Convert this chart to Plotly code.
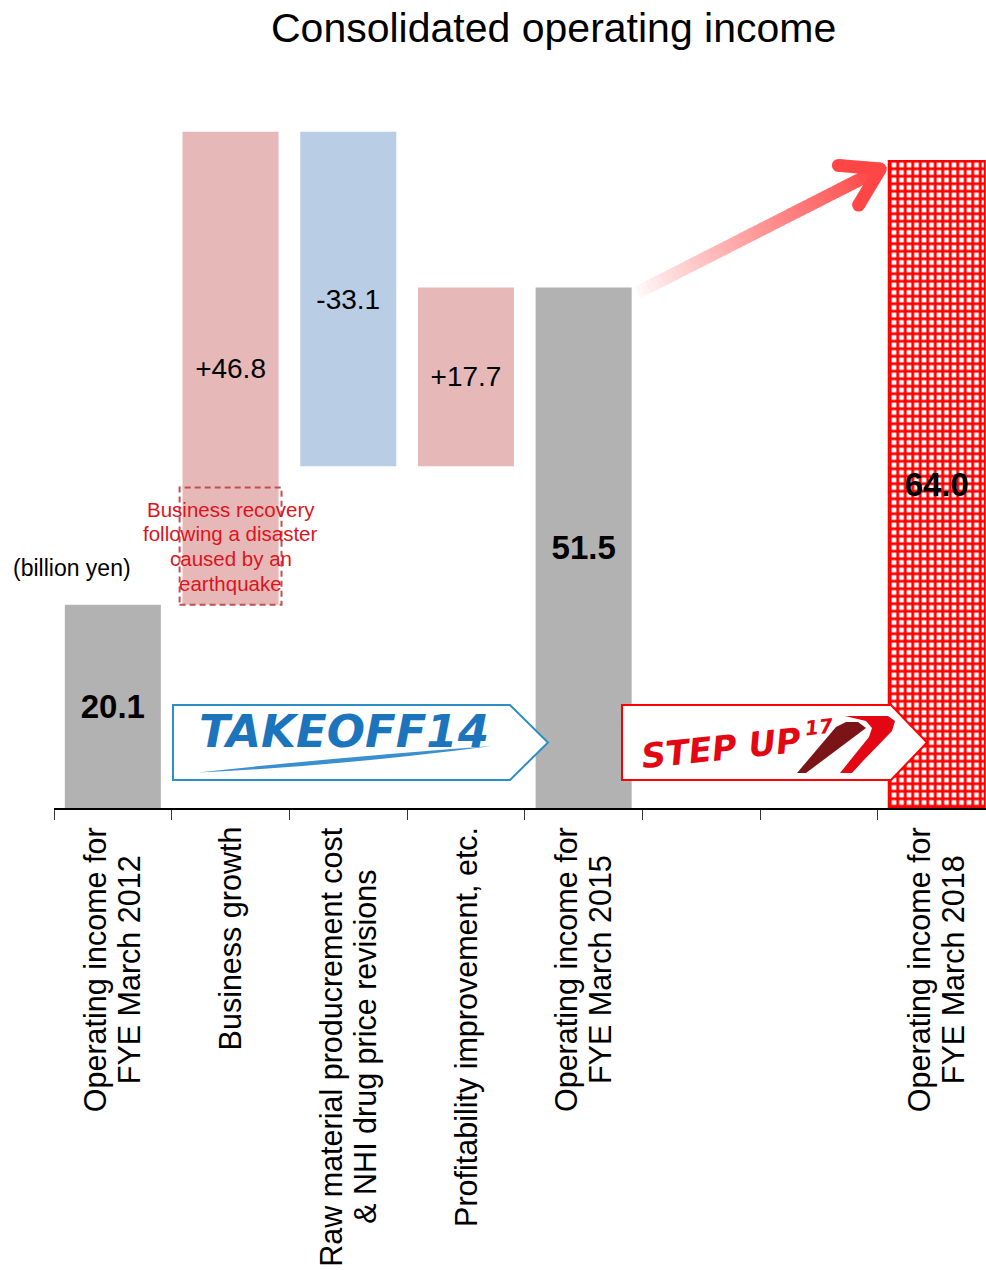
import numpy as np
import plotly.graph_objects as go

# ---------------- data (billion yen) ----------------
categories = [
    "Operating income for\nFYE March 2012",
    "Business growth",
    "Raw material producrement cost\n& NHI drug price revisions",
    "Profitability improvement, etc.",
    "Operating income for\nFYE March 2015",
    "",
    "",
    "Operating income for\nFYE March 2018",
]
start_income = 20.1                   # FYE March 2012
step_values = [46.8, -33.1, 17.7]     # growth, cost & price revisions, profitability
target_income = 64.0                  # FYE March 2018
recovery_part = 11.6                  # share of growth from disaster recovery
recovery_note = ["Business recovery", "following a disaster", "caused by an", "earthquake"]

# ---------------- layout geometry ----------------
FIG_W, FIG_H = 986, 1270
M_L, M_R, M_T, M_B = 54, 0, 60, 462
PLOT_W = FIG_W - M_L - M_R
PLOT_H = FIG_H - M_T - M_B
X_RANGE = [-0.5, -0.5 + PLOT_W / 117.7]
Y_MAX = 74.0
BOTTOM = FIG_H - M_B

FONT = "Liberation Sans, Arial, Helvetica, sans-serif"
LOGO_FONT = "DejaVu Sans, Verdana, sans-serif"

GRAY = "#B2B2B2"
PINK = "#E6B9B8"
BLUE = "#B9CDE5"
RED = "#FF0000"

# Arial / Liberation Sans advance widths (1/1000 em), used to centre label lines
ADV = {" ": 278, "&": 667, ",": 278, ".": 278, "B": 667, "E": 667, "F": 611, "H": 722,
       "I": 278, "M": 833, "N": 722, "O": 778, "P": 667, "R": 722, "Y": 667,
       "a": 556, "b": 556, "c": 500, "d": 556, "e": 556, "f": 278, "g": 556, "h": 556,
       "i": 222, "l": 222, "m": 833, "n": 556, "o": 556, "p": 556, "r": 333, "s": 500,
       "t": 278, "u": 556, "v": 500, "w": 722, "y": 500}


def text_len(s, size):
    return sum(ADV.get(ch, 556) for ch in s) * size / 1000.0


def px_x(x):
    return M_L + (x - X_RANGE[0]) / (X_RANGE[1] - X_RANGE[0]) * PLOT_W


def px_y(y):
    return BOTTOM - y / Y_MAX * PLOT_H


def pap_x(px):
    return (px - M_L) / PLOT_W


def pap_y(py):
    return (BOTTOM - py) / PLOT_H


def poly_path(points):
    return "M " + " L ".join(f"{pap_x(x):.5f},{pap_y(y):.5f}" for x, y in points) + " Z"


# ---------------- waterfall arithmetic ----------------
idx_start, idx_total, idx_target = 0, 4, 7
step_idx = [1, 2, 3]
running = start_income
bases = []
for v in step_values:
    bases.append(running if v > 0 else running + v)
    running += v
total_income = round(running, 1)

inc = [(i, b, v) for i, b, v in zip(step_idx, bases, step_values) if v > 0]
dec = [(i, b, v) for i, b, v in zip(step_idx, bases, step_values) if v < 0]

BAR_W = 0.816
fig = go.Figure()

fig.add_trace(go.Bar(
    x=[idx_start, idx_total], y=[start_income, total_income],
    width=BAR_W, marker=dict(color=GRAY, line=dict(width=0)),
    text=[f"{start_income:.1f}", f"{total_income:.1f}"],
    textposition="inside", insidetextanchor="middle", textangle=0, constraintext="none",
    textfont=dict(family=FONT, size=33, color="black", weight="bold"),
))
fig.add_trace(go.Bar(
    x=[i for i, _, _ in inc], base=[b for _, b, _ in inc], y=[v for _, _, v in inc],
    width=BAR_W, marker=dict(color=PINK, line=dict(width=0)),
    text=[f"+{v:.1f}" for _, _, v in inc],
    textposition="inside", insidetextanchor="middle", textangle=0, constraintext="none",
    textfont=dict(family=FONT, size=28, color="black"),
))
fig.add_trace(go.Bar(
    x=[i for i, _, _ in dec], base=[b for _, b, _ in dec], y=[-v for _, _, v in dec],
    width=BAR_W, marker=dict(color=BLUE, line=dict(width=0)),
    text=[f"{v:.1f}" for _, _, v in dec],
    textposition="inside", insidetextanchor="middle", textangle=0, constraintext="none",
    textfont=dict(family=FONT, size=28, color="black"),
))
fig.add_trace(go.Bar(
    x=[idx_target], y=[target_income], width=BAR_W,
    marker=dict(color=RED, line=dict(color=RED, width=2),
                pattern=dict(shape="+", fillmode="replace", bgcolor="white", size=7.5, solidity=0.62)),
    text=[f"{target_income:.1f}"],
    textposition="inside", insidetextanchor="middle", textangle=0, constraintext="none",
    textfont=dict(family=FONT, size=33, color="black", weight="bold"),
))

shapes = []
annotations = []

# dashed box marking the recovery share of business growth
shapes.append(dict(
    type="rect", xref="x", yref="y",
    x0=step_idx[0] - 0.433, x1=step_idx[0] + 0.433,
    y0=start_income, y1=start_income + recovery_part,
    line=dict(color="#C0504D", width=2, dash="6px,4px"), fillcolor="rgba(0,0,0,0)",
    layer="above",
))
cy = px_y(start_income + recovery_part / 2)
for j, line in enumerate(recovery_note):
    annotations.append(dict(
        x=step_idx[0], xref="x", y=pap_y(cy + (j - 1.5) * 24.7), yref="paper",
        text=line, showarrow=False, xanchor="center", yanchor="middle",
        font=dict(family=FONT, size=20.5, color="#DC1420"),
    ))

# rising arrow from the 2015 result to the 2018 target (gradient shaft)
p0 = np.array([px_x(idx_total + 0.46), px_y(total_income) + 5])
p1 = np.array([px_x(idx_target - 0.48), px_y(target_income) + 8])
d = (p1 - p0) / np.linalg.norm(p1 - p0)
shaft_end = p1 - d * 6
N = 48
for k in range(N):
    a = p0 + (shaft_end - p0) * k / N
    b = p0 + (shaft_end - p0) * (k + 1) / N + d * 0.8
    t = (k + 0.5) / N
    g = int(round(250 - (250 - 70) * t ** 0.9))
    col = f"rgb(255,{g},{g})"
    shapes.append(dict(type="line", xref="paper", yref="paper",
                       x0=pap_x(a[0]), y0=pap_y(a[1]), x1=pap_x(b[0]), y1=pap_y(b[1]),
                       line=dict(color=col, width=13), layer="above"))
HEAD = "rgb(255,70,70)"
for ang in (np.radians(32), np.radians(-32)):
    rot = np.array([[np.cos(ang), -np.sin(ang)], [np.sin(ang), np.cos(ang)]])
    arm = p1 + rot @ (-d) * 42
    shapes.append(dict(type="line", xref="paper", yref="paper",
                       x0=pap_x(p1[0]), y0=pap_y(p1[1]), x1=pap_x(arm[0]), y1=pap_y(arm[1]),
                       line=dict(color=HEAD, width=13), layer="above"))
    shapes.append(dict(type="circle", xref="paper", yref="paper",
                       xsizemode="pixel", ysizemode="pixel",
                       xanchor=pap_x(arm[0]), yanchor=pap_y(arm[1]),
                       x0=-6.5, x1=6.5, y0=-6.5, y1=6.5,
                       fillcolor=HEAD, line=dict(width=0), layer="above"))
shapes.append(dict(type="circle", xref="paper", yref="paper",
                   xsizemode="pixel", ysizemode="pixel",
                   xanchor=pap_x(p1[0]), yanchor=pap_y(p1[1]),
                   x0=-6.5, x1=6.5, y0=-6.5, y1=6.5,
                   fillcolor=HEAD, line=dict(width=0), layer="above"))

# plan banners: TAKE OFF 14 and STEP UP 17
shapes.append(dict(type="path", xref="paper", yref="paper",
                   path=poly_path([(173, 705), (510, 705), (548, 742.5), (510, 780), (173, 780)]),
                   fillcolor="white", line=dict(color="#2C8EC4", width=2), layer="above"))
shapes.append(dict(type="path", xref="paper", yref="paper",
                   path=(f"M {pap_x(198):.5f},{pap_y(772.5):.5f} "
                         f"Q {pap_x(340):.5f},{pap_y(757):.5f} {pap_x(492):.5f},{pap_y(746):.5f} "
                         f"Q {pap_x(340):.5f},{pap_y(766):.5f} {pap_x(198):.5f},{pap_y(772.5):.5f} Z"),
                   fillcolor="#3A8FCF", line=dict(width=0), layer="above"))
annotations.append(dict(
    x=pap_x(344), y=pap_y(731), xref="paper", yref="paper", text="TAKEOFF14",
    showarrow=False, xanchor="center", yanchor="middle",
    font=dict(family=LOGO_FONT, size=45, color="#1C75BC", weight="bold", style="italic"),
))

shapes.append(dict(type="path", xref="paper", yref="paper",
                   path=poly_path([(622, 705), (891, 705), (927, 742.5), (891, 780), (622, 780)]),
                   fillcolor="white", line=dict(color=RED, width=2), layer="above"))
shapes.append(dict(type="path", xref="paper", yref="paper",
                   path=poly_path([(797, 773), (836, 727), (846, 722), (858, 722), (866, 728), (806, 773)]),
                   fillcolor="#7B1416", line=dict(width=0), layer="above"))
shapes.append(dict(type="path", xref="paper", yref="paper",
                   path=poly_path([(845, 716), (888, 716), (895, 721), (892, 731), (862, 762),
                                   (852, 773), (840, 773), (869, 737), (872, 728), (866, 721)]),
                   fillcolor="#E30613", line=dict(width=0), layer="above"))
annotations.append(dict(
    x=pap_x(721), y=pap_y(748), xref="paper", yref="paper", text="STEP UP",
    showarrow=False, xanchor="center", yanchor="middle", textangle=-6,
    font=dict(family=LOGO_FONT, size=34, color="#E30613", weight="bold", style="italic"),
))
annotations.append(dict(
    x=pap_x(819), y=pap_y(727), xref="paper", yref="paper", text="17",
    showarrow=False, xanchor="center", yanchor="middle", textangle=-6,
    font=dict(family=LOGO_FONT, size=20, color="#E30613", weight="bold", style="italic"),
))

# category labels, rotated; lines centred on each other, block ending near the axis
LABEL_SIZE = 30.5
for i, label in enumerate(categories):
    if not label:
        continue
    lines = label.split("\n")
    n = len(lines)
    longest = max(text_len(s, LABEL_SIZE) for s in lines)
    for j, line in enumerate(lines):
        annotations.append(dict(
            x=i, xref="x", y=0, yref="y", yshift=-(19 + longest / 2),
            xshift=(j - (n - 1) / 2) * 34,
            text=line, showarrow=False, textangle=-90,
            xanchor="center", yanchor="middle",
            font=dict(family=FONT, size=LABEL_SIZE, color="black"),
        ))

# title and unit
annotations.append(dict(
    x=pap_x(553), y=pap_y(28), xref="paper", yref="paper",
    text="Consolidated operating income", showarrow=False,
    xanchor="center", yanchor="middle",
    font=dict(family=FONT, size=41, color="black"),
))
annotations.append(dict(
    x=pap_x(72), y=pap_y(568), xref="paper", yref="paper",
    text="(billion yen)", showarrow=False, xanchor="center", yanchor="middle",
    font=dict(family=FONT, size=23, color="black"),
))

fig.update_layout(
    width=FIG_W, height=FIG_H,
    margin=dict(l=M_L, r=M_R, t=M_T, b=M_B, pad=0),
    paper_bgcolor="white", plot_bgcolor="white",
    showlegend=False, barmode="overlay", hovermode=False,
    shapes=shapes, annotations=annotations,
    xaxis=dict(
        range=X_RANGE, showgrid=False, zeroline=False,
        tickmode="array", tickvals=[k - 0.5 for k in range(len(categories))],
        ticktext=[""] * len(categories),
        ticks="outside", ticklen=10, tickwidth=1, tickcolor="#333333",
        showline=True, linecolor="black", linewidth=1.5,
    ),
    yaxis=dict(range=[0, Y_MAX], visible=False),
)

fig.write_html("out.html")
